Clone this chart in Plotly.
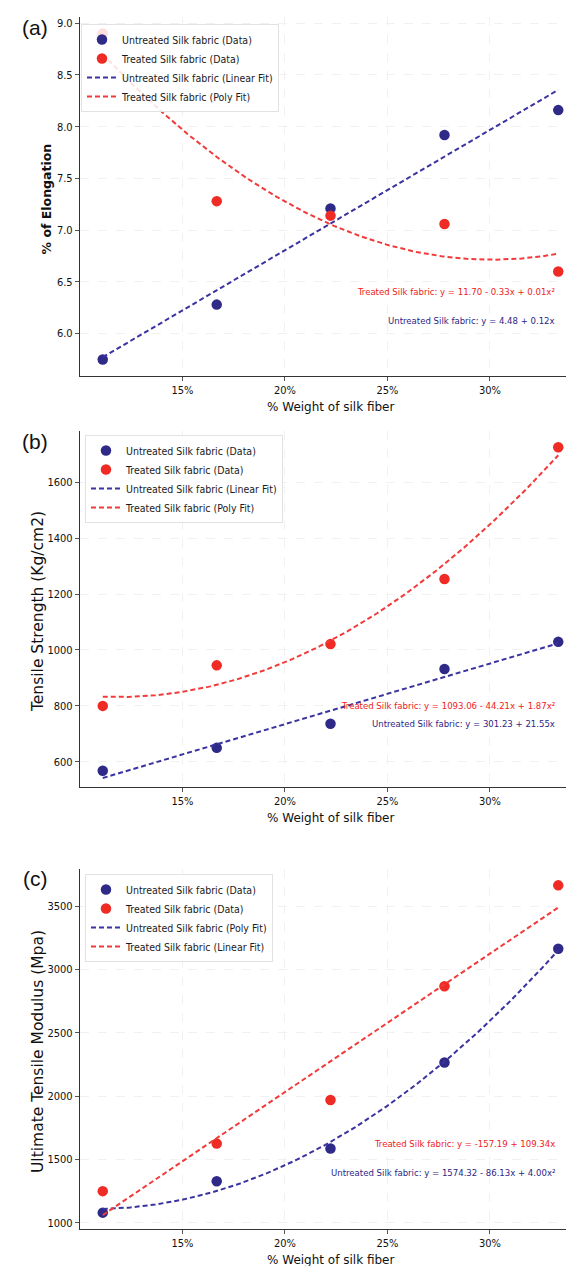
import numpy as np
import plotly.graph_objects as go

# ---------------- data ----------------
x_pct = [11.11, 16.67, 22.22, 27.78, 33.33]          # % weight of silk fiber
elong_untreated = [5.75, 6.28, 7.21, 7.92, 8.16]     # % of elongation
elong_treated = [8.90, 7.28, 7.14, 7.06, 6.60]
ts_untreated = [568, 650, 736, 932, 1029]            # tensile strength (Kg/cm2)
ts_treated = [800, 945, 1021, 1254, 1725]
utm_untreated = [1080, 1328, 1586, 2265, 3164]       # ultimate tensile modulus (Mpa)
utm_treated = [1250, 1625, 1969, 2867, 3664]
x_ticks = [15, 20, 25, 30]
x_tick_labels = ["15%", "20%", "25%", "30%"]

eq_a_treated = "Treated Silk fabric: y = 11.70 - 0.33x + 0.01x²"
eq_a_untreated = "Untreated Silk fabric: y = 4.48 + 0.12x"
eq_b_treated = "Treated Silk fabric: y = 1093.06 - 44.21x + 1.87x²"
eq_b_untreated = "Untreated Silk fabric: y = 301.23 + 21.55x"
eq_c_treated = "Treated Silk fabric: y = -157.19 + 109.34x"
eq_c_untreated = "Untreated Silk fabric: y = 1574.32 - 86.13x + 4.00x²"

# ---------------- styling ----------------
W, H = 574, 1266
BLUE_DOT = "#2f2a88"
RED_DOT = "#ee2b25"
BLUE_LINE = "#3a33a0"
RED_LINE = "#f23a3a"
BLUE_TXT = "#2c2584"
RED_TXT = "#ee2222"
FONT = "DejaVu Sans"
FONT_C = "DejaVu Sans Condensed"


def px_x(p):
    return p / W


def px_y(p):
    return 1 - p / H


panels = [
    dict(unt=elong_untreated, tr=elong_treated, deg_u=1, deg_t=2,
         fit_u="Linear Fit", fit_t="Poly Fit", top=9, bot=368,
         yr=[5.59, 9.06], ytick=[6.0, 6.5, 7.0, 7.5, 8.0, 8.5, 9.0], yfmt=".1f",
         ytitle="% of Elongation", ytitle_bold=True, ytitle_size=12.5, ytitle_x=38,
         eq_t=eq_a_treated, eq_u=eq_a_untreated, eq_t_y=6.41, eq_u_y=6.13,
         label="(a)", label_y=20, legend_top=16, legend_left=73),
    dict(unt=ts_untreated, tr=ts_treated, deg_u=1, deg_t=2,
         fit_u="Linear Fit", fit_t="Poly Fit", top=423, bot=779,
         yr=[510, 1783], ytick=[600, 800, 1000, 1200, 1400, 1600], yfmt="d",
         ytitle="Tensile Strength (Kg/cm2)", ytitle_bold=False, ytitle_size=15.5, ytitle_x=30,
         eq_t=eq_b_treated, eq_u=eq_b_untreated, eq_t_y=801, eq_u_y=737,
         label="(b)", label_y=433, legend_top=427, legend_left=77),
    dict(unt=utm_untreated, tr=utm_treated, deg_u=2, deg_t=1,
         fit_u="Poly Fit", fit_t="Linear Fit", top=861, bot=1221,
         yr=[951, 3793], ytick=[1000, 1500, 2000, 2500, 3000, 3500], yfmt="d",
         ytitle="Ultimate Tensile Modulus (Mpa)", ytitle_bold=False, ytitle_size=15.5, ytitle_x=30,
         eq_t=eq_c_treated, eq_u=eq_c_untreated, eq_t_y=1626, eq_u_y=1398,
         label="(c)", label_y=870, legend_top=866, legend_left=77),
]

fig = go.Figure()
annotations = []
layout = {}

xs = np.array(x_pct)
x_line = np.linspace(xs.min(), xs.max(), 200)

for i, p in enumerate(panels):
    n = "" if i == 0 else str(i + 1)
    xa, ya = "x" + n, "y" + n
    leg = "legend" + n

    fit_u = np.polyval(np.polyfit(xs, np.array(p["unt"], float), p["deg_u"]), x_line)
    fit_t = np.polyval(np.polyfit(xs, np.array(p["tr"], float), p["deg_t"]), x_line)

    fig.add_trace(go.Scatter(x=x_pct, y=p["unt"], mode="markers", xaxis=xa, yaxis=ya,
                             name="Untreated Silk fabric (Data)", legend=leg,
                             marker=dict(color=BLUE_DOT, size=10.5)))
    fig.add_trace(go.Scatter(x=x_pct, y=p["tr"], mode="markers", xaxis=xa, yaxis=ya,
                             name="Treated Silk fabric (Data)", legend=leg,
                             marker=dict(color=RED_DOT, size=10.5)))
    fig.add_trace(go.Scatter(x=x_line, y=fit_u, mode="lines", xaxis=xa, yaxis=ya,
                             name="Untreated Silk fabric (%s)" % p["fit_u"], legend=leg,
                             line=dict(color=BLUE_LINE, width=2, dash="5px,3px")))
    fig.add_trace(go.Scatter(x=x_line, y=fit_t, mode="lines", xaxis=xa, yaxis=ya,
                             name="Treated Silk fabric (%s)" % p["fit_t"], legend=leg,
                             line=dict(color=RED_LINE, width=2, dash="5px,3px")))

    axis_common = dict(showline=True, linecolor="#333333", linewidth=1.3,
                       ticks="outside", ticklen=4, tickwidth=1, tickcolor="#555555",
                       showgrid=True, gridcolor="#f1f1f1", griddash="dash", gridwidth=1,
                       zeroline=False, tickfont=dict(family=FONT_C, size=11, color="#111111"))
    layout["xaxis" + n] = dict(domain=[px_x(72), px_x(573)], range=[10.0, 34.44],
                               anchor=ya, tickvals=x_ticks, ticktext=x_tick_labels,
                               **axis_common)
    layout["yaxis" + n] = dict(domain=[px_y(p["bot"]), px_y(p["top"])], range=p["yr"],
                               anchor=xa, tickvals=p["ytick"], tickformat=p["yfmt"],
                               **axis_common)
    layout[leg] = dict(x=px_x(p["legend_left"]), y=px_y(p["legend_top"]),
                       xanchor="left", yanchor="top",
                       bgcolor="rgba(255,255,255,0.85)", bordercolor="#e2e2e2", borderwidth=1,
                       font=dict(family=FONT_C, size=10.5, color="#1a1a1a"),
                       itemwidth=30, tracegroupgap=0)

    # equation texts
    annotations.append(dict(x=33.25, y=p["eq_t_y"], xref=xa, yref=ya, text=p["eq_t"],
                            showarrow=False, xanchor="right", yanchor="middle",
                            font=dict(family=FONT_C, size=9.5, color=RED_TXT)))
    annotations.append(dict(x=33.25, y=p["eq_u_y"], xref=xa, yref=ya, text=p["eq_u"],
                            showarrow=False, xanchor="right", yanchor="middle",
                            font=dict(family=FONT_C, size=9.5, color=BLUE_TXT)))
    # axis titles
    yt = p["ytitle"]
    if p["ytitle_bold"]:
        yt = "<b>" + yt + "</b>"
    annotations.append(dict(x=px_x(p["ytitle_x"]), y=px_y((p["top"] + p["bot"]) / 2 + 3),
                            xref="paper", yref="paper", text=yt, textangle=-90,
                            showarrow=False, xanchor="center", yanchor="middle",
                            font=dict(family=FONT, size=p["ytitle_size"], color="#111111")))
    annotations.append(dict(x=px_x(322), y=px_y(p["bot"] + 31), xref="paper", yref="paper",
                            text="% Weight of silk fiber", showarrow=False,
                            xanchor="center", yanchor="middle",
                            font=dict(family=FONT, size=12, color="#111111")))
    # panel label
    annotations.append(dict(x=px_x(27), y=px_y(p["label_y"]), xref="paper", yref="paper",
                            text=p["label"], showarrow=False, xanchor="center", yanchor="middle",
                            font=dict(family="Liberation Sans", size=21, color="#111111")))

fig.update_layout(width=W, height=H, autosize=False,
                  margin=dict(l=0, r=0, t=0, b=0),
                  paper_bgcolor="white", plot_bgcolor="white",
                  annotations=annotations, **layout)

fig.write_html("out.html")
